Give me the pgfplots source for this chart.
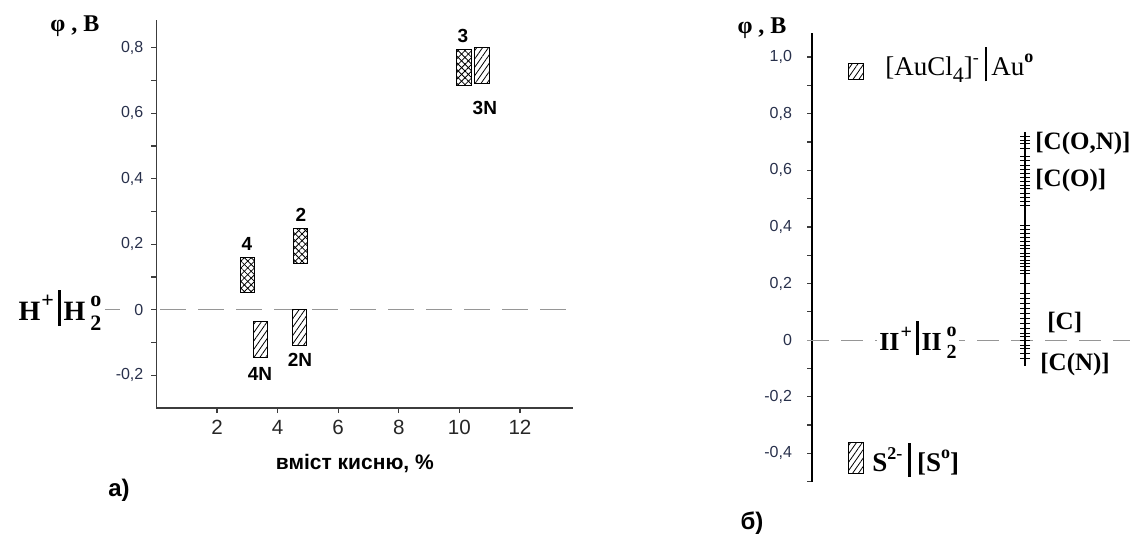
\documentclass[border=0pt]{standalone}
\usepackage{pgfplots}
\pgfplotsset{compat=1.18}
\usepackage{pgfplotstable}
\usepackage{fontspec}
\setmainfont{Liberation Serif}
\setsansfont{Liberation Sans}
\usetikzlibrary{patterns.meta}
\definecolor{tickc}{RGB}{40,48,75}
\definecolor{axc}{RGB}{60,60,60}
\definecolor{dashc}{RGB}{150,150,150}
\tikzset{
  xa/.style={draw=black, line width=0.5pt, pattern={Lines[angle=45,distance=2.4pt,line width=0.4pt]}},
  xb/.style={pattern={Lines[angle=-45,distance=2.4pt,line width=0.4pt]}},
  nh/.style={draw=black, line width=0.5pt, pattern={Lines[angle=55,distance=2.4pt,line width=0.4pt]}},
}
\pgfplotstableread{
v
0.721
0.707
0.693
0.678
0.647
0.633
0.618
0.604
0.590
0.576
0.562
0.548
0.534
0.519
0.505
0.491
0.477
0.406
0.392
0.378
0.364
0.347
0.336
0.324
0.306
0.294
0.283
0.271
0.259
0.245
0.236
0.200
0.165
0.147
0.130
0.112
0.094
0.077
0.059
0.041
0.024
0.012
0.000
-0.018
-0.029
-0.047
-0.065
}\ladder
\begin{document}
\begin{tikzpicture}
\path[use as bounding box] (0,0) rectangle (570.5pt,-268pt);
% ---------------- left panel ----------------
\begin{axis}[
  at={(78.2pt,-204pt)}, anchor=south west,
  scale only axis, width=208.3pt, height=194pt,
  xmin=0, xmax=13.75, ymin=-0.3, ymax=0.885,
  axis x line=bottom, axis y line=left,
  axis line style={-, draw=axc, line width=0.8pt},
  clip=false,
  xtick={2,4,6,8,10,12},
  xticklabels={2,4,6,8,10,12},
  ytick={-0.2,0,0.2,0.4,0.6,0.8},
  yticklabels={{-0,2},{0},{0,2},{0,4},{0,6},{0,8}},
  minor ytick={-0.1,0.1,0.3,0.5,0.7},
  tick align=outside,
  major tick length=2.5pt, minor tick length=2.5pt,
  tick style={axc, line width=0.6pt},
  yticklabel style={font=\sffamily\fontsize{8}{8}\selectfont, text=tickc, xshift=-0.5pt},
  xticklabel style={font=\sffamily\fontsize{10.3}{10.3}\selectfont, text=black!85},
]
\addplot[dashc, line width=0.6pt] coordinates {(-1.70,0) (-1.20,0)};
\addplot[dashc, line width=0.6pt, dash pattern=on 13pt off 6pt] coordinates {(0.12,0) (13.75,0)};
% bar 4
\addplot[xa] coordinates {(2.78,0.052) (3.23,0.052) (3.23,0.159) (2.78,0.159)} -- cycle;
\addplot[xb] coordinates {(2.78,0.052) (3.23,0.052) (3.23,0.159) (2.78,0.159)} -- cycle;
% bar 4N
\addplot[nh] coordinates {(3.22,-0.146) (3.66,-0.146) (3.66,-0.037) (3.22,-0.037)} -- cycle;
% bar 2
\addplot[xa] coordinates {(4.52,0.142) (4.98,0.142) (4.98,0.249) (4.52,0.249)} -- cycle;
\addplot[xb] coordinates {(4.52,0.142) (4.98,0.142) (4.98,0.249) (4.52,0.249)} -- cycle;
% bar 2N
\addplot[nh] coordinates {(4.50,-0.110) (4.96,-0.110) (4.96,0) (4.50,0)} -- cycle;
% bar 3
\addplot[xa] coordinates {(9.91,0.685) (10.41,0.685) (10.41,0.794) (9.91,0.794)} -- cycle;
\addplot[xb] coordinates {(9.91,0.685) (10.41,0.685) (10.41,0.794) (9.91,0.794)} -- cycle;
% bar 3N
\addplot[nh] coordinates {(10.49,0.692) (10.98,0.692) (10.98,0.801) (10.49,0.801)} -- cycle;
\begin{scope}[font=\sffamily\bfseries\fontsize{9.5}{9.5}\selectfont]
\node at (axis cs:2.99,0.200) {4};
\node at (axis cs:3.42,-0.197) {4N};
\node at (axis cs:4.77,0.289) {2};
\node at (axis cs:4.74,-0.154) {2N};
\node at (axis cs:10.12,0.837) {3};
\node at (axis cs:10.84,0.616) {3N};
\end{scope}
\node[font=\sffamily\bfseries\fontsize{10.5}{10.5}\selectfont] at (axis cs:6.55,-0.469) {вміст кисню, \%};
\node[font=\bfseries\fontsize{12}{12}\selectfont] at (axis cs:-2.69,0.866) {φ , B};
\node[anchor=east, inner sep=0pt, font=\bfseries\fontsize{14}{14}\selectfont] at (axis cs:-1.80,0)
  {H\kern0.5pt\raisebox{1.0ex}{\fontsize{11}{11}\selectfont +}\kern2pt\vrule width 1.4pt height 2.4ex depth 0.45ex\kern1.5pt H\kern2.5pt\rlap{\raisebox{1.1ex}{\fontsize{11}{11}\selectfont o}}\raisebox{-0.75ex}{\fontsize{11}{11}\selectfont 2}};
\end{axis}
% ---------------- right panel ----------------
\begin{axis}[
  at={(406pt,-240.85pt)}, anchor=south west,
  scale only axis, width=164.5pt, height=224.35pt,
  xmin=812, xmax=1141, ymin=-0.5, ymax=1.085,
  axis x line=none, axis y line=left,
  axis line style={-, draw=black, line width=0.8pt},
  clip=false,
  xtick=\empty,
  ytick={-0.4,-0.2,0,0.2,0.4,0.6,0.8,1.0},
  yticklabels={{-0,4},{-0,2},{0},{0,2},{0,4},{0,6},{0,8},{1,0}},
  minor ytick={-0.5,-0.3,-0.1,0.1,0.3,0.5,0.7,0.9},
  tick align=outside,
  major tick length=2.5pt, minor tick length=2.5pt,
  tick style={axc, line width=0.6pt},
  yticklabel style={font=\sffamily\fontsize{8}{8}\selectfont, text=tickc, xshift=-4pt},
]
\addplot[dashc, line width=0.6pt, dash pattern=on 11pt off 6pt] coordinates {(807,0) (1130,0)};
% ladder
\addplot[black, line width=0.8pt] coordinates {(1025,-0.090) (1025,0.735)};
\addplot[only marks, mark=-, mark size=2.6pt, mark options={black, line width=0.5pt}] table[x expr=1025, y=v] {\ladder};
% small boxes
\addplot[nh] coordinates {(848.3,0.922) (863.3,0.922) (863.3,0.977) (848.3,0.977)} -- cycle;
\addplot[nh] coordinates {(848.3,-0.471) (863.3,-0.471) (863.3,-0.363) (848.3,-0.363)} -- cycle;
\node[font=\bfseries\fontsize{12}{12}\selectfont] at (axis cs:762,1.102) {φ , B};
\node[anchor=west, inner sep=0pt, font=\fontsize{13.5}{13.5}\selectfont] at (axis cs:885,0.972)
  {[AuCl\raisebox{-0.55ex}{\fontsize{11}{11}\selectfont 4}]\raisebox{1.0ex}{\fontsize{9}{9}\selectfont -}\kern3pt\vrule width 1.3pt height 2.3ex depth 0.45ex\kern2pt Au\raisebox{1.05ex}{\fontsize{9}{9}\selectfont\bfseries o}};
\node[anchor=west, inner sep=0pt, font=\bfseries\fontsize{13.5}{13.5}\selectfont] at (axis cs:872,-0.424)
  {S\raisebox{1.0ex}{\fontsize{9}{9}\selectfont 2-}\kern3pt\vrule width 1.3pt height 2.3ex depth 0.45ex\kern3pt[S\raisebox{1.05ex}{\fontsize{9}{9}\selectfont o}]};
\node[fill=white, inner xsep=1pt, inner ysep=0pt, font=\bfseries\fontsize{13}{13}\selectfont] at (axis cs:918,0)
  {II\kern0.5pt\raisebox{1.0ex}{\fontsize{10}{10}\selectfont +}\kern2pt\vrule width 1.3pt height 2.4ex depth 0.45ex\kern1.5pt II\kern2.5pt\rlap{\raisebox{1.1ex}{\fontsize{10}{10}\selectfont o}}\raisebox{-0.75ex}{\fontsize{10}{10}\selectfont 2}};
\begin{scope}[font=\bfseries\fontsize{12.5}{12.5}\selectfont]
\node[anchor=west, inner sep=0pt] at (axis cs:1035,0.696) {[C(O,N)]};
\node[anchor=west, inner sep=0pt] at (axis cs:1035,0.565) {[C(O)]};
\node[anchor=west, inner sep=0pt] at (axis cs:1047,0.064) {[C]};
\node[anchor=west, inner sep=0pt] at (axis cs:1040,-0.085) {[C(N)]};
\end{scope}
\end{axis}
\node[font=\sffamily\bfseries\fontsize{12}{12}\selectfont] at (59.5pt,-245pt) {а)};
\node[font=\sffamily\bfseries\fontsize{12}{12}\selectfont] at (376pt,-261.5pt) {б)};
\end{tikzpicture}
\end{document}
